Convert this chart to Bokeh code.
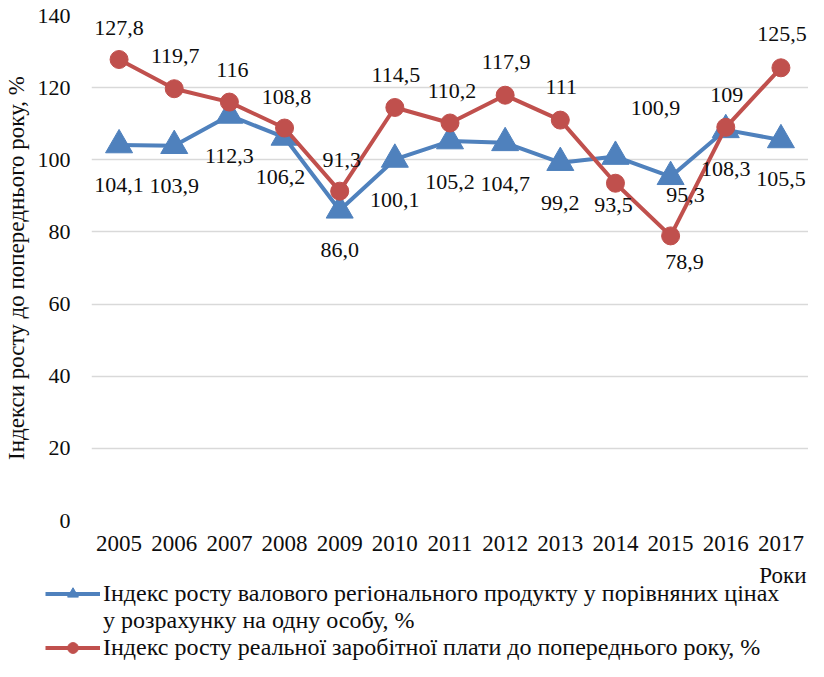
from bokeh.plotting import figure
from bokeh.models import (ColumnDataSource, Range1d, FactorRange, FixedTicker,
                          Legend, LegendItem, Label)
from bokeh.embed import file_html
from bokeh.resources import INLINE
from bokeh.core.properties import value

# ---------------- data ----------------
years = ["2005", "2006", "2007", "2008", "2009", "2010", "2011",
         "2012", "2013", "2014", "2015", "2016", "2017"]
grp_index = [104.1, 103.9, 112.3, 106.2, 86.0, 100.1, 105.2,
             104.7, 99.2, 100.9, 95.3, 108.3, 105.5]
wage_index = [127.8, 119.7, 116.0, 108.8, 91.3, 114.5, 110.2,
              117.9, 111.0, 93.5, 78.9, 109.0, 125.5]
grp_labels = ["104,1", "103,9", "112,3", "106,2", "86,0", "100,1", "105,2",
              "104,7", "99,2", "100,9", "95,3", "108,3", "105,5"]
wage_labels = ["127,8", "119,7", "116", "108,8", "91,3", "114,5", "110,2",
               "117,9", "111", "93,5", "78,9", "109", "125,5"]
y_ticks = [0, 20, 40, 60, 80, 100, 120, 140]

grp_name = "Індекс росту валового регіонального продукту у порівняних цінах"
grp_name2 = "у розрахунку на одну особу, %"
wage_name = "Індекс росту реальної заробітної плати до попереднього року, %"
y_title = "Індекси росту до попереднього року, %"
x_title = "Роки"

# label placement (screen px, +y = down)
grp_dx = [0, 0, 0, -4, 0, 0, 0, 0, 0, 40, 15, 0, 0]
grp_dy = [40, 40, 41, 40, 40, 41, 41, 41, 40, -49, 18, 39, 39]
wage_dx = [0, 1, 3, 2, 2, 1, 2, 1, 1, -2, 14, 1, 1]
wage_dy = [-32, -33, -32, -31, -31, -32, -32, -33, -33, 22, 26, -32, -34]

BLUE = "#4F81BD"
RED = "#C0504D"
FONT = "Liberation Serif"
TXT = "#0d0d0d"

src = ColumnDataSource(dict(x=years, g=grp_index, w=wage_index,
                            gl=grp_labels, wl=wage_labels,
                            gdx=grp_dx, gdy=grp_dy, wdx=wage_dx, wdy=wage_dy))

# ---------------- main chart ----------------
p = figure(width=808, height=562, output_backend="svg", toolbar_location=None,
           x_range=FactorRange(factors=years, range_padding=0),
           y_range=Range1d(0, 140),
           min_border_left=86, min_border_right=0, min_border_top=15,
           min_border_bottom=42)
p.outline_line_color = None
p.background_fill_color = "white"
p.border_fill_color = "white"

p.yaxis.ticker = FixedTicker(ticks=y_ticks)
for ax in (p.xaxis[0], p.yaxis[0]):
    ax.axis_line_color = None
    ax.major_tick_line_color = None
    ax.minor_tick_line_color = None
    ax.major_tick_out = 0
    ax.major_tick_in = 0
    ax.major_label_text_font = FONT
    ax.major_label_text_color = TXT
p.xaxis.major_label_text_font_size = "23px"
p.yaxis.major_label_text_font_size = "22px"
p.xaxis.major_label_standoff = 15
p.yaxis.major_label_standoff = 21
p.yaxis.axis_label = y_title
p.yaxis.axis_label_text_font = FONT
p.yaxis.axis_label_text_font_size = "23px"
p.yaxis.axis_label_text_font_style = "normal"
p.yaxis.axis_label_text_color = TXT
p.yaxis.axis_label_standoff = 6

p.xgrid.grid_line_color = None
p.ygrid.grid_line_color = "#D9D9D9"
p.ygrid.grid_line_width = 1.3

p.line("x", "g", source=src, line_color=BLUE, line_width=4)
p.scatter("x", "g", source=src, marker="triangle", size=27,
          fill_color=BLUE, line_color=BLUE)
p.line("x", "w", source=src, line_color=RED, line_width=4)
p.scatter("x", "w", source=src, marker="circle", size=18,
          fill_color=RED, line_color=RED)

for ycol, tcol, dx, dy in (("g", "gl", "gdx", "gdy"), ("w", "wl", "wdx", "wdy")):
    p.text("x", ycol, text=tcol, source=src, x_offset=dx, y_offset=dy,
           text_font=value(FONT), text_font_size="22px", text_color=TXT,
           text_align="center", text_baseline="middle")

# ---------------- legend strip (separate root) ----------------
q = figure(width=808, height=99, output_backend="svg", toolbar_location=None,
           x_range=Range1d(0, 1), y_range=Range1d(0, 1),
           x_axis_location=None, y_axis_location=None,
           min_border=0, min_border_left=0, min_border_right=0,
           min_border_top=0, min_border_bottom=0)
q.outline_line_color = None
q.grid.visible = False
q.border_fill_color = "white"
q.background_fill_color = "white"

off = dict(x=[-5], y=[-5])  # sample glyphs only, kept outside the visible range
lg_gl = q.line(x=off["x"], y=off["y"], line_color=BLUE, line_width=4)
lg_gs = q.scatter(x=off["x"], y=off["y"], marker="triangle",
                  fill_color=BLUE, line_color=BLUE)
lg_wl = q.line(x=off["x"], y=off["y"], line_color=RED, line_width=4)
lg_ws = q.scatter(x=off["x"], y=off["y"], marker="circle",
                  fill_color=RED, line_color=RED)
lg_dummy = q.line(x=off["x"], y=off["y"], line_alpha=0)

q.add_layout(Label(x=806, y=86, x_units="screen", y_units="screen",
                   text=x_title, text_font=FONT, text_font_size="23px",
                   text_color=TXT, text_align="right", text_baseline="middle"))

legend = Legend(items=[LegendItem(label=grp_name, renderers=[lg_gl, lg_gs]),
                       LegendItem(label=grp_name2, renderers=[lg_dummy]),
                       LegendItem(label=wage_name, renderers=[lg_wl, lg_ws])],
                location=(45, 0), orientation="vertical",
                glyph_width=55, glyph_height=27, label_standoff=3,
                spacing=0, padding=0, margin=0,
                border_line_color=None, background_fill_alpha=0,
                label_text_font=FONT, label_text_font_size="24px",
                label_text_color=TXT, label_height=27)
q.add_layout(legend, "center")

open("out.html", "w").write(file_html([p, q], INLINE))
